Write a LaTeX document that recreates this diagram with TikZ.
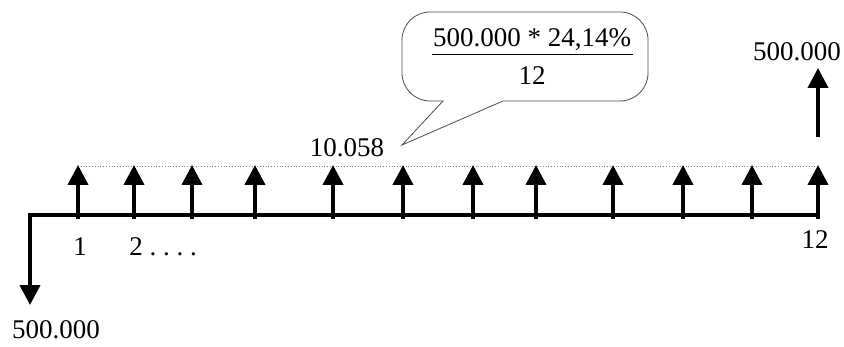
\documentclass[tikz,border=0pt]{standalone}
\usepackage{fontspec}
\setmainfont{Liberation Serif}
\usetikzlibrary{arrows.meta}

\begin{document}
\begin{tikzpicture}[x=0.5pt,y=-0.5pt,
  flow/.style={line width=2pt,-{Triangle[width=10pt,length=10pt]}},
  lbl/.style={font=\fontsize{13.5}{16}\selectfont,inner sep=0pt}]
\useasboundingbox (0,0) rectangle (844,347);
% time line
\coordinate (t0) at (30,215);
\coordinate (t12) at (818,215);
\coordinate (out) at (30,305);
\draw[gray,densely dotted,thin] (78,166) -- (818,166);
\draw[flow,line join=miter] (t12) -- (t0) -- (out);
\foreach \x in {78,134,192,255,333,403,473,536,613,683,752,818}
  \draw[flow] (\x,219) -- (\x,165);
\draw[flow] (818,137) -- (818,68);
% labels
\node[lbl] (loan) at (56,330) {500.000};
\node[lbl] (p1) at (80,247) {1};
\node[lbl,anchor=west] (p2) at (129,247) {2~.~.~.~.};
\node[lbl] (p12) at (815,240) {12};
\node[lbl] (back) at (797,52) {500.000};
\node[lbl] (rent) at (347,148) {10.058};
% bubble
\coordinate (tip) at (402,145);
\draw[gray!60!black,thin] (503,101) -- (tip) -- (443,101)
  [rounded corners=14pt] -- (402,101) -- (402,12) -- (648,12) -- (648,101) -- (503,101);
\node[lbl] (num) at (532,40) {500.000 * 24,14\%};
\node[lbl] (den) at (532,76) {12};
\draw[thin] (432,54) -- (633,54);
\end{tikzpicture}
\end{document}
